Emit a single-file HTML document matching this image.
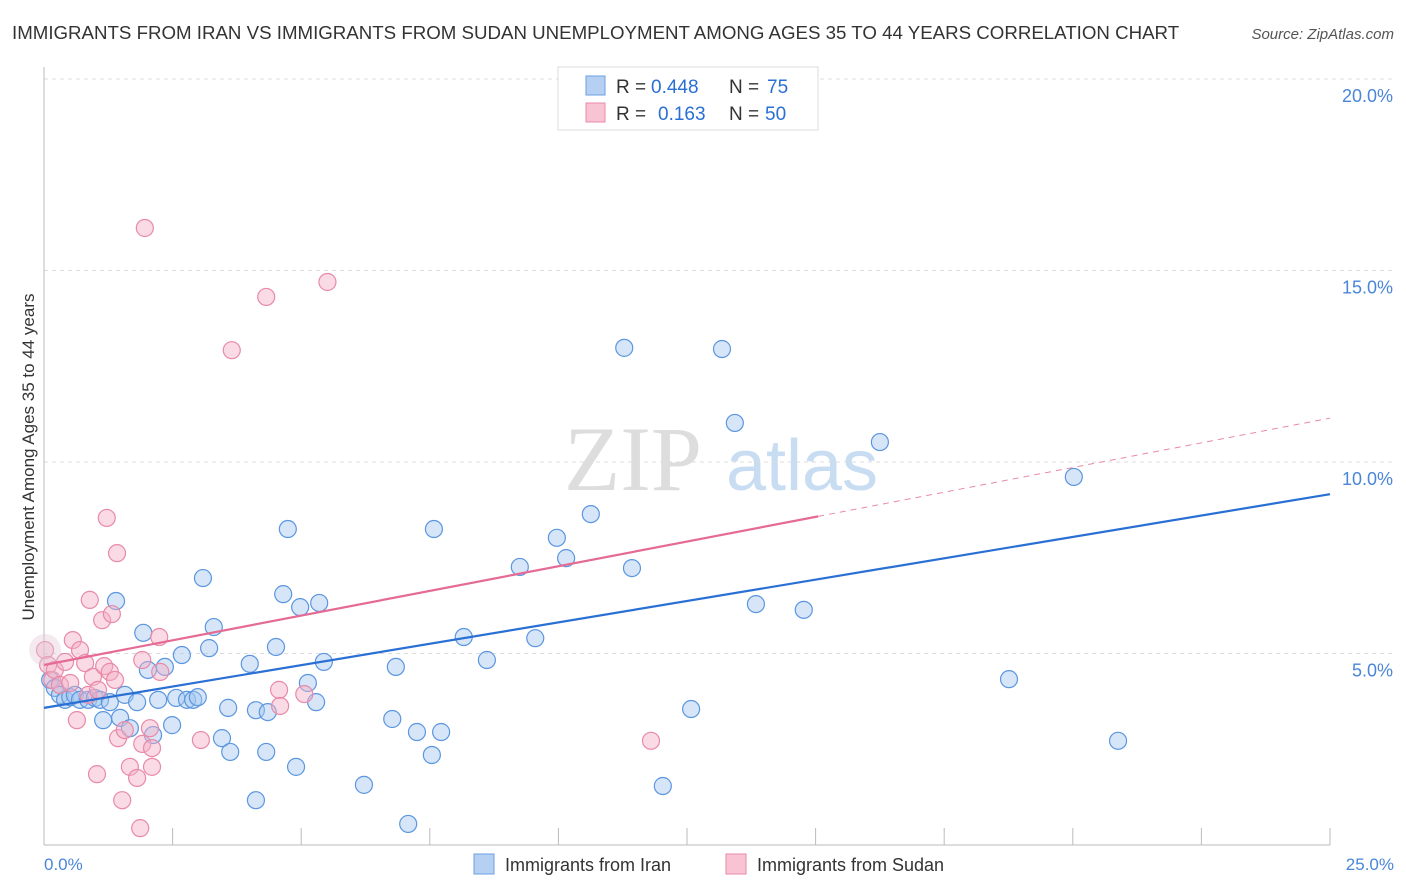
<!DOCTYPE html>
<html><head><meta charset="utf-8"><style>
body{margin:0;background:#fff;font-family:"Liberation Sans",sans-serif;}
svg{display:block}
</style></head><body>
<svg id="chart" width="1406" height="892" xmlns="http://www.w3.org/2000/svg">
<text x="12" y="39" font-size="18.7" fill="#333">IMMIGRANTS FROM IRAN VS IMMIGRANTS FROM SUDAN UNEMPLOYMENT AMONG AGES 35 TO 44 YEARS CORRELATION CHART</text>
<text x="1394" y="39" font-size="15" fill="#555" font-style="italic" text-anchor="end">Source: ZipAtlas.com</text>
<g>
<text x="633" y="490" font-size="92" fill="#ddd" font-family="Liberation Serif,serif" text-anchor="middle">ZIP</text>
<text x="802" y="490" font-size="72" fill="#c8dcf2" text-anchor="middle">atlas</text>
</g>
<g id="grid"></g>
<g id="axes"></g>
<g id="marks"></g>
<text transform="translate(34,457) rotate(-90)" font-size="17" fill="#333" text-anchor="middle">Unemployment Among Ages 35 to 44 years</text>
<text x="44" y="870" font-size="17" fill="#4a86d8">0.0%</text>
<text x="1394" y="870" font-size="17" fill="#4a86d8" text-anchor="end">25.0%</text>
<g>
<rect x="558" y="67" width="260" height="63" fill="#fff" stroke="#ddd"/>
<rect x="586" y="76" width="19" height="19" fill="#b5d0f3" stroke="#6a9fe0"/>
<rect x="586" y="103" width="19" height="19" fill="#f8c4d3" stroke="#e88aa8"/>
<text x="616" y="93" font-size="19" fill="#333">R =</text>
<text x="651" y="93" font-size="19" fill="#2a6fd4">0.448</text>
<text x="729" y="93" font-size="19" fill="#333">N =</text>
<text x="767" y="93" font-size="19" fill="#2a6fd4">75</text>
<text x="616" y="120" font-size="19" fill="#333">R =</text>
<text x="658" y="120" font-size="19" fill="#2a6fd4">0.163</text>
<text x="729" y="120" font-size="19" fill="#333">N =</text>
<text x="765" y="120" font-size="19" fill="#2a6fd4">50</text>
</g>
<g>
<rect x="474" y="854" width="20" height="20" fill="#b5d0f3" stroke="#6a9fe0"/>
<text x="505" y="871" font-size="18" fill="#333">Immigrants from Iran</text>
<rect x="726" y="854" width="20" height="20" fill="#f8c4d3" stroke="#e88aa8"/>
<text x="757" y="871" font-size="18" fill="#333">Immigrants from Sudan</text>
</g>
</svg>
<script>
const yTicks=[5,10,15,20];
const yTickLabels=["5.0%","10.0%","15.0%","20.0%"];
const xTicks=[0,2.5,5,7.5,10,12.5,15,17.5,20,22.5,25];
const iranX=[0.12,0.21,0.31,0.41,0.51,0.60,0.70,0.86,0.99,1.09,1.15,1.28,1.40,1.48,1.57,1.67,1.81,1.93,2.02,2.12,2.22,2.35,2.49,2.57,2.68,2.78,2.90,2.99,3.09,3.21,3.30,3.46,3.58,3.62,4.00,4.12,4.12,4.32,4.35,4.51,4.65,4.74,4.90,4.98,5.13,5.29,5.35,5.44,6.22,6.77,6.84,7.08,7.25,7.54,7.58,7.72,8.16,8.61,9.25,9.55,9.97,10.15,10.63,11.28,11.43,12.03,12.58,13.18,13.43,13.84,14.77,16.25,18.76,20.02,20.88];
const iranY=[4.31,4.10,3.92,3.79,3.86,3.92,3.79,3.79,3.84,3.79,3.26,3.73,6.37,3.32,3.92,3.05,3.73,5.54,4.57,2.87,3.79,4.65,3.13,3.84,4.96,3.79,3.79,3.86,6.97,5.14,5.69,2.79,3.58,2.43,4.73,3.52,1.17,2.43,3.47,5.17,6.55,8.25,2.04,6.21,4.23,3.73,6.32,4.78,1.57,3.29,4.65,0.55,2.95,2.35,8.25,2.95,5.43,4.83,7.26,5.40,8.02,7.49,8.64,12.98,7.23,1.54,3.55,12.95,11.02,6.29,6.14,10.52,4.33,9.61,2.72];
const sudanX=[0.02,0.08,0.16,0.21,0.31,0.41,0.51,0.56,0.64,0.70,0.80,0.86,0.89,0.95,1.03,1.05,1.13,1.17,1.22,1.28,1.32,1.38,1.42,1.44,1.52,1.57,1.67,1.81,1.87,1.91,1.91,1.96,2.06,2.10,2.10,2.24,2.26,3.05,3.65,4.32,4.57,4.59,5.06,5.51,11.80];
const sudanY=[5.09,4.70,4.31,4.57,4.18,4.78,4.23,5.35,3.26,5.09,4.75,3.92,6.40,4.39,1.85,4.05,5.87,4.67,8.54,4.52,6.03,4.31,7.62,2.79,1.17,3.00,2.04,1.75,0.44,2.64,4.83,16.11,3.05,2.53,2.04,5.43,4.52,2.74,12.92,14.31,4.05,3.63,3.94,14.70,2.72];
const iranFit=[3.58,0.2232];
const sudanFit=[4.70,0.2578];
const sudanSolidEnd=15.05;
const NS="http://www.w3.org/2000/svg";
const X0=44,X1=1330,Y0=845,PY=38.3;
function sx(v){return X0+(v/25)*(X1-X0);}
function sy(v){return Y0-v*PY;}
function mk(tag,attrs,parent){const e=document.createElementNS(NS,tag);for(const k in attrs)e.setAttribute(k,attrs[k]);parent.appendChild(e);return e;}
const grid=document.getElementById('grid'),axes=document.getElementById('axes'),marks=document.getElementById('marks');
yTicks.forEach((t,i)=>{
 const l=mk('line',{x1:X0,x2:1394,y1:sy(t),y2:sy(t),stroke:'#ddd','stroke-dasharray':'4,4'},grid);
 
 
 const tx=mk('text',{x:1393,y:sy(t)+23,'font-size':18,fill:'#4a86d8','text-anchor':'end'},grid);
 tx.textContent=yTickLabels[i];
 
 
});
const ax=mk('line',{x1:X0,x2:X0,y1:67,y2:Y0,stroke:'#bbb'},axes);


const bx=mk('line',{x1:X0,x2:X1,y1:Y0,y2:Y0,stroke:'#bbb'},axes);


xTicks.forEach(t=>{
 const l=mk('line',{x1:sx(t),x2:sx(t),y1:828,y2:Y0,stroke:'#bbb'},axes);
 
 
});
function dots(xs,ys,fill,stroke,name){
 xs.forEach((x,i)=>{
  const c=mk('circle',{cx:sx(x),cy:sy(ys[i]),r:8.5,fill:fill,'fill-opacity':0.45,stroke:stroke,'stroke-width':1.2},marks);
  
  
 });
}
dots(iranX,iranY,'#a4c8f0','#5b96e0','iran-point');
dots(sudanX,sudanY,'#f4b0c6','#e88aa8','sudan-point');
const big=mk('circle',{cx:sx(sudanX[0]),cy:sy(sudanY[0]),r:16,fill:'#e0c8d8','fill-opacity':0.4,stroke:'none'},marks);


const bl=mk('line',{x1:sx(0),y1:sy(iranFit[0]),x2:sx(25),y2:sy(iranFit[0]+iranFit[1]*25),stroke:'#2a6fd4','stroke-width':2.2},marks);


const pl=mk('line',{x1:sx(0),y1:sy(sudanFit[0]),x2:sx(sudanSolidEnd),y2:sy(sudanFit[0]+sudanFit[1]*sudanSolidEnd),stroke:'#e56a94','stroke-width':2.2},marks);


const pd=mk('line',{x1:sx(sudanSolidEnd),y1:sy(sudanFit[0]+sudanFit[1]*sudanSolidEnd),x2:sx(25),y2:sy(sudanFit[0]+sudanFit[1]*25),stroke:'#e88aa8','stroke-width':1,'stroke-dasharray':'6,5'},marks);


</script>
</body></html>
